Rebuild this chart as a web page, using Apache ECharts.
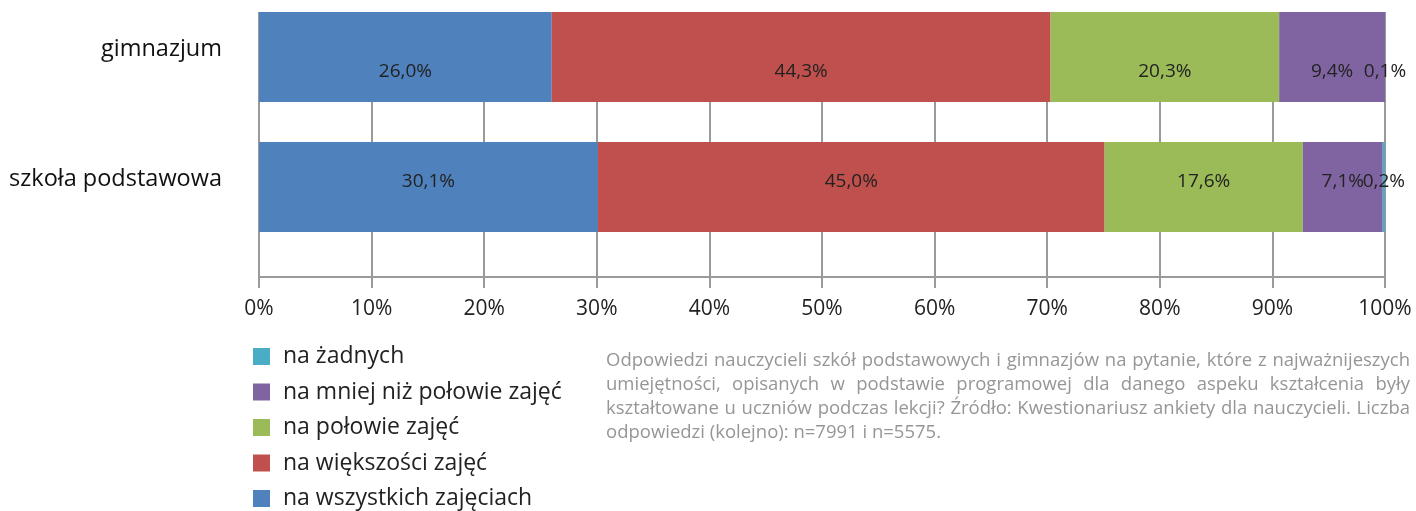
<!DOCTYPE html>
<html>
<head>
<meta charset="utf-8">
<script src="https://cdn.jsdelivr.net/npm/echarts@6/dist/echarts.min.js"></script>
<style>
html,body{margin:0;padding:0;background:#fff;}
#chart{width:1416px;height:511px;}
</style>
</head>
<body>
<div id="chart"></div>
<script>
// ---- data ----
const categories = ['gimnazjum', 'szkoła podstawowa'];
const seriesNames = ['na wszystkich zajęciach', 'na większości zajęć', 'na połowie zajęć', 'na mniej niż połowie zajęć', 'na żadnych'];
const naWszystkich = [26.0, 30.1];
const naWiekszosci = [44.3, 45.0];
const naPolowie = [20.3, 17.6];
const naMniej = [9.4, 7.1];
const naZadnych = [0.1, 0.2];
const xTickLabels = ['0%', '10%', '20%', '30%', '40%', '50%', '60%', '70%', '80%', '90%', '100%'];
const captionLines = [
  'Odpowiedzi nauczycieli szkół podstawowych i gimnazjów na pytanie, które z najważnijeszych',
  'umiejętności, opisanych w podstawie programowej dla danego aspeku kształcenia były',
  'kształtowane u uczniów podczas lekcji? Źródło: Kwestionariusz ankiety dla nauczycieli. Liczba',
  'odpowiedzi (kolejno): n=7991 i n=5575.'
];

// ---- style ----
const colors = ['#4F81BD', '#C0504D', '#9BBB59', '#8064A2', '#4BACC6'];
const labelOffsets = [[0, 15], [0, -5]]; // per category vertical shift of data labels
const FONT = 'Open Sans';
const gridColor = '#9a9a9a';

const seriesData = [naWszystkich, naWiekszosci, naPolowie, naMniej, naZadnych];
const fmt = v => v.toFixed(1).replace('.', ',') + '%';

const series = seriesNames.map((name, i) => ({
  name: name,
  type: 'bar',
  stack: 'total',
  xAxisIndex: 0,
  yAxisIndex: 0,
  barWidth: 90,
  itemStyle: { color: colors[i] },
  label: {
    show: true,
    position: 'inside',
    formatter: p => fmt(p.value),
    fontFamily: FONT,
    fontSize: 19,
    color: '#222'
  },
  data: seriesData[i].map((v, ci) => ({ value: v, label: { offset: labelOffsets[ci] } }))
}));

// caption justified layout
const cv = document.createElement('canvas').getContext('2d');
const capFont = '18.5px "' + FONT + '"';
cv.font = capFont;
const capLeft = 606, capRight = 1410, capTop = 361, capLH = 24;
const graphics = [{
  type: 'rect', left: 240, top: 0, z: 100,
  shape: { width: 1176, height: 12 },
  style: { fill: '#fff' }
}];
captionLines.forEach((line, li) => {
  const words = line.split(' ');
  const widths = words.map(w => cv.measureText(w).width);
  const sum = widths.reduce((a, b) => a + b, 0);
  const justify = li < captionLines.length - 1;
  let gap = justify ? (capRight - capLeft - sum) / (words.length - 1) : cv.measureText(' ').width;
  if (gap < 2) gap = 2;
  let x = capLeft;
  words.forEach((w, wi) => {
    graphics.push({
      type: 'text', x: x, y: capTop + li * capLH, z: 100,
      style: { text: w, font: capFont, fill: '#969696', verticalAlign: 'middle' }
    });
    x += widths[wi] + gap;
  });
});

const chart = echarts.init(document.getElementById('chart'));
chart.setOption({
  animation: false,
  textStyle: { fontFamily: FONT },
  grid: [
    { left: 259, right: 31, top: -8, height: 260, outerBoundsMode: 'none', containLabel: false },
    { left: 259, right: 31, top: 252, height: 25, outerBoundsMode: 'none', containLabel: false }
  ],
  xAxis: [
    {
      gridIndex: 0, type: 'value', min: 0, max: 100, interval: 10,
      axisLine: { show: false }, axisTick: { show: false }, axisLabel: { show: false },
      splitLine: { show: true, lineStyle: { color: gridColor, width: 2 } }
    },
    {
      gridIndex: 1, type: 'value', min: 0, max: 100, interval: 10,
      axisLine: { show: true, lineStyle: { color: gridColor, width: 2 } },
      axisTick: { show: true, length: 11, lineStyle: { color: gridColor, width: 2 } },
      axisLabel: {
        margin: 22, fontFamily: FONT, fontSize: 21, color: '#222',
        formatter: v => xTickLabels[Math.round(v / 10)]
      },
      splitLine: { show: true, lineStyle: { color: gridColor, width: 2 } }
    }
  ],
  yAxis: [
    {
      gridIndex: 0, type: 'category', data: categories, inverse: true,
      axisLine: { show: false }, axisTick: { show: false },
      axisLabel: { margin: 37, fontFamily: FONT, fontSize: 23.5, color: '#111', verticalAlign: 'bottom', lineHeight: 16 }
    },
    { gridIndex: 1, type: 'category', data: [''], show: false }
  ],
  legend: {
    orient: 'vertical', left: 253, top: 345, bottom: 0, padding: 0,
    itemWidth: 17, itemHeight: 17, itemGap: 12.5, icon: 'rect',
    textStyle: { fontFamily: FONT, fontSize: 23, color: '#222', padding: [0, 0, 0, 8] },
    data: seriesNames.slice().reverse()
  },
  series: series,
  graphic: graphics
});
</script>
</body>
</html>
